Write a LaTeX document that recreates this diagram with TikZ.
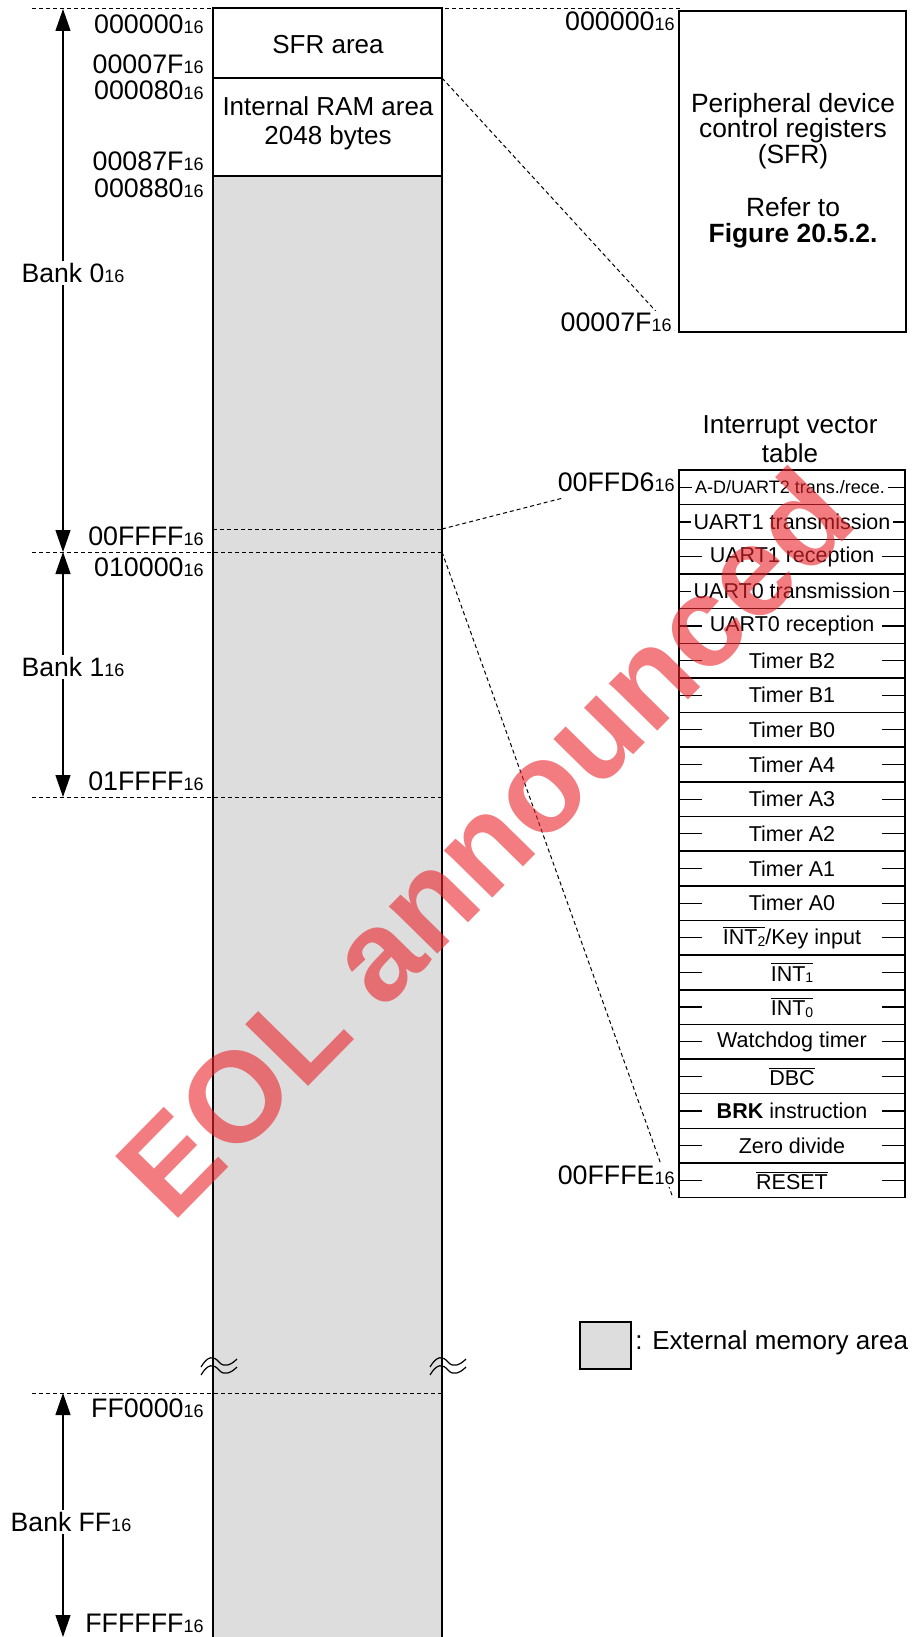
\documentclass[tikz,border=0pt]{standalone}
\usepackage{fontspec}
\setmainfont{Liberation Sans}
\usetikzlibrary{arrows.meta}
\definecolor{extgrey}{RGB}{221,221,221}
\definecolor{wmred}{RGB}{234,36,44}
\newcommand\hsub[1]{{\fontsize{9}{10}\selectfont #1}}
\newcommand\ovl[1]{$\overline{\hbox{#1}}$}
\newcommand\lsub[1]{\raisebox{-0.8pt}{\fontsize{7}{8}\selectfont #1}}
\newcommand\wave[2]{%
  \draw[line width=0.6pt] (#1-16,#2+5) .. controls (#1-9,#2-7) and (#1-3,#2-6) .. (#1+2,#2) .. controls (#1+7,#2+6) and (#1+14,#2+3) .. (#1+20,#2-3);
  \draw[line width=0.6pt] (#1-16,#2+13) .. controls (#1-9,#2+1) and (#1-3,#2+2) .. (#1+2,#2+8) .. controls (#1+7,#2+14) and (#1+14,#2+11) .. (#1+20,#2+5);}
\begin{document}
\begin{tikzpicture}[x=0.5pt,y=-0.5pt,
  big/.style={font=\fontsize{13}{14.5}\selectfont, inner sep=0.5pt, align=center},
  addr/.style={font=\fontsize{13.4}{15}\selectfont, anchor=east, inner sep=1pt, fill=white},
  cell/.style={font=\fontsize{10.75}{13}\selectfont, inner xsep=1.5pt, inner ysep=0.5pt, fill=white},
  guide/.style={dash pattern=on 2pt off 1.5pt, line width=0.5pt},
  bankarrow/.style={line width=0.6pt, {Triangle[length=11pt,width=7.5pt]}-{Triangle[length=11pt,width=7.5pt]}},
  banklabel/.style={font=\fontsize{13.3}{15}\selectfont, fill=white, inner sep=1pt},
  frame/.style={line width=0.75pt},
]
\useasboundingbox (0,0) rectangle (913,1637);

% named points
\coordinate (topL) at (32,9);
\coordinate (topR) at (682,9);
\coordinate (sfrBR) at (442,78);
\coordinate (ffffL) at (213,529);
\coordinate (ffffR) at (442,529);
\coordinate (bk1L) at (32,552);
\coordinate (bk1R) at (442,552);
\coordinate (bk1eL) at (32,797);
\coordinate (bk1eR) at (442,797);
\coordinate (ffL) at (32,1393);
\coordinate (ffR) at (442,1393);
\coordinate (sfrTip) at (674,331);
\coordinate (ivtTip) at (563,498);
\coordinate (ivtBot) at (673,1198);

% memory column
\fill[extgrey] (213,176) rectangle (442,1637);
\draw[guide] (topL) -- (topR);
\draw[guide] (bk1L) -- (bk1R);
\draw[guide] (bk1eL) -- (bk1eR);
\draw[guide] (ffL) -- (ffR);
\draw[guide] (ffffL) -- (ffffR);
\draw[guide] (sfrBR) -- (sfrTip);
\draw[guide] (ffffR) -- (ivtTip);
\draw[guide] (bk1R) -- (ivtBot);
\draw[frame] (213,1637) -- (213,8) -- (442,8) -- (442,1637);
\draw[frame] (213,78) -- (442,78);
\draw[frame] (213,176) -- (442,176);
\node[big] (sfrarea) at (328,45) {SFR area};
\node[big] (ramarea) at (328,123) {Internal RAM area\\2048 bytes};
\wave{217}{1362}
\wave{446}{1362}

% left address labels
\node[addr] (a1) at (206,24) {000000\hsub{16}};
\node[addr] (a2) at (206,64) {00007F\hsub{16}};
\node[addr] (a3) at (206,90) {000080\hsub{16}};
\node[addr] (a4) at (206,161) {00087F\hsub{16}};
\node[addr] (a5) at (206,188) {000880\hsub{16}};
\node[addr] (a6) at (206,536) {00FFFF\hsub{16}};
\node[addr] (a7) at (206,567) {010000\hsub{16}};
\node[addr] (a8) at (206,781) {01FFFF\hsub{16}};
\node[addr] (a9) at (206,1408) {FF0000\hsub{16}};
\node[addr] (a10) at (206,1623) {FFFFFF\hsub{16}};

% bank arrows
\coordinate (b0t) at (63,9);
\coordinate (b0b) at (63,552);
\coordinate (b1b) at (63,797);
\coordinate (bft) at (63,1393);
\coordinate (bfb) at (63,1637);
\draw[bankarrow] (b0t) -- (b0b);
\draw[bankarrow] (b0b) -- (b1b);
\draw[bankarrow] (bft) -- (bfb);
\node[banklabel] (bank0) at (73,273) {Bank 0\hsub{16}};
\node[banklabel] (bank1) at (73,667) {Bank 1\hsub{16}};
\node[banklabel] (bankff) at (71,1522) {Bank FF\hsub{16}};

% SFR box
\draw[frame] (679,11) rectangle (906,332);
\node[big, font=\fontsize{13.2}{12.9}\selectfont] (periph) at (793,131) {Peripheral device\\control registers\\(SFR)};
\node[big, font=\fontsize{13.2}{12.9}\selectfont] (refer) at (793,223) {Refer to\\\textbf{Figure 20.5.2.}};
\node[addr] (r1) at (677,21) {000000\hsub{16}};
\node[addr] (r2) at (674,322) {00007F\hsub{16}};

% interrupt vector table
\node[big] (ivttitle) at (790,439) {Interrupt vector\\table};
\node[addr] (r3) at (677,482) {00FFD6\hsub{16}};
\node[addr] (r4) at (677,1175) {00FFFE\hsub{16}};
\foreach \i/\t in {0/{},
  1/{UART1 transmission},
  2/{UART1 reception},
  3/{UART0 transmission},
  4/{UART0 reception},
  5/{Timer B2},
  6/{Timer B1},
  7/{Timer B0},
  8/{Timer A4},
  9/{Timer A3},
  10/{Timer A2},
  11/{Timer A1},
  12/{Timer A0},
  13/{\ovl{INT\lsub{2}}/Key input},
  14/{\ovl{INT\lsub{1}}},
  15/{\ovl{INT\lsub{0}}},
  16/{Watchdog timer},
  17/{\ovl{DBC}},
  18/{\textbf{BRK} instruction},
  19/{Zero divide},
  20/{\ovl{RESET}}} {
  \draw[frame] (679,{470+34.65*\i}) -- (905,{470+34.65*\i});
  \draw[line width=0.6pt] (679,{470+34.65*(\i+0.5)}) -- (702,{470+34.65*(\i+0.5)});
  \draw[line width=0.6pt] (882,{470+34.65*(\i+0.5)}) -- (905,{470+34.65*(\i+0.5)});
  \node[cell] (cell\i) at (792,{470+34.65*(\i+0.5)}) {\t};
}
\node[cell, font=\fontsize{9}{11}\selectfont] (cellAD) at (790,487.3) {A-D/UART2 trans./rece.};
\draw[frame] (679,470) rectangle (905,1197.65);

% legend
\draw[line width=0.6pt, fill=extgrey] (580,1322) rectangle (631,1369);
\node[big, anchor=west] (legend) at (634,1343) {: External memory area};

% watermark
\node[rotate=45.5, anchor=center, text=wmred, text opacity=0.6, inner sep=0pt,
      font=\bfseries\fontsize{64}{64}\selectfont] (wm) at (484,842) {EOL announced};
\end{tikzpicture}
\end{document}
